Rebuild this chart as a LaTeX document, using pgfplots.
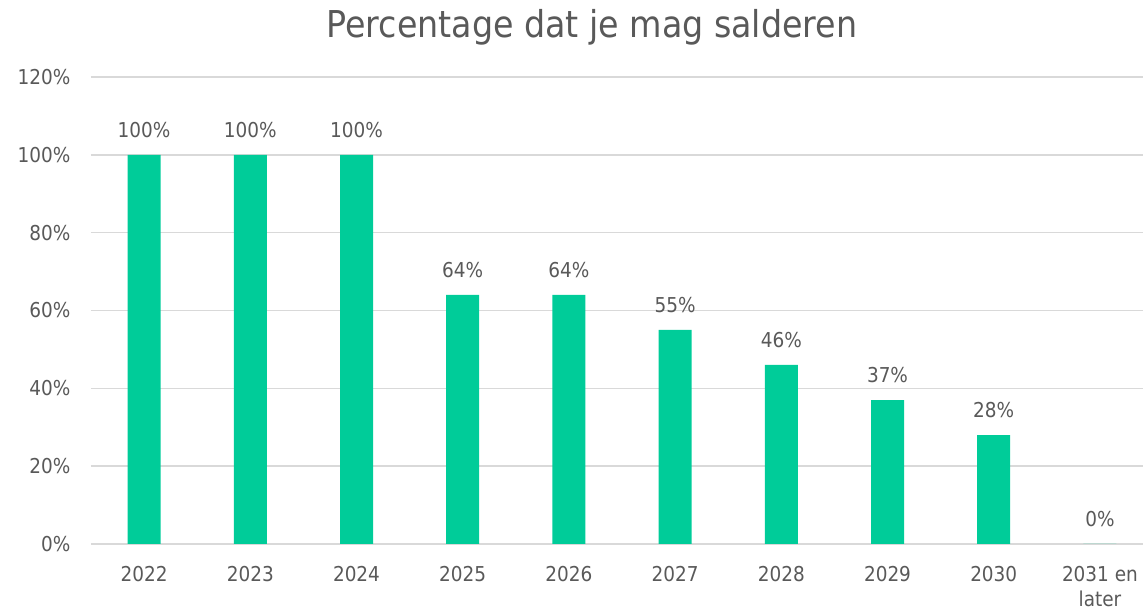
\documentclass[border=0pt]{standalone}
\usepackage{pgfplots}
\pgfplotsset{compat=1.18}
\usepackage{fontspec}
\setmainfont{DejaVu Sans Condensed}
\definecolor{barc}{HTML}{00CC99}
\definecolor{txt}{HTML}{595959}
\definecolor{gridc}{HTML}{D9D9D9}
\begin{document}
\begin{tikzpicture}[x=1pt,y=1pt]
\useasboundingbox (0,0) rectangle (1143,613);
\node[text=txt, font=\fontsize{37}{42}\selectfont, anchor=base] at (592,575) {Percentage dat je mag salderen};
\begin{axis}[
  at={(91pt,69pt)}, anchor=south west,
  scale only axis, width=1052pt, height=467pt,
  xmin=-0.5, xmax=9.406,
  ymin=0, ymax=120,
  ybar, bar width=33pt,
  xtick={0,...,9},
  xticklabels={2022,2023,2024,2025,2026,2027,2028,2029,2030,{2031 en\\later}},
  ytick={0,20,40,60,80,100,120},
  yticklabels={0\%,20\%,40\%,60\%,80\%,100\%,120\%},
  axis line style={draw=none},
  major tick style={draw=none},
  ymajorgrids, grid style={color=gridc, line width=1.5pt},
  tick label style={text=txt, font=\fontsize{20.5}{25}\selectfont},
  xticklabel style={align=center, yshift=-14pt},
  yticklabel style={xshift=-17pt},
  /pgf/number format/assume math mode=true,
  nodes near coords={\pgfmathprintnumber{\pgfplotspointmeta}\%},
  every node near coord/.append style={text=txt, font=\fontsize{20.5}{25}\selectfont, yshift=14pt},
  clip=false,
]
\addplot[fill=barc, draw=none] coordinates {(0,100) (1,100) (2,100) (3,64) (4,64) (5,55) (6,46) (7,37) (8,28) (9,0)};
\end{axis}
\end{tikzpicture}
\end{document}
